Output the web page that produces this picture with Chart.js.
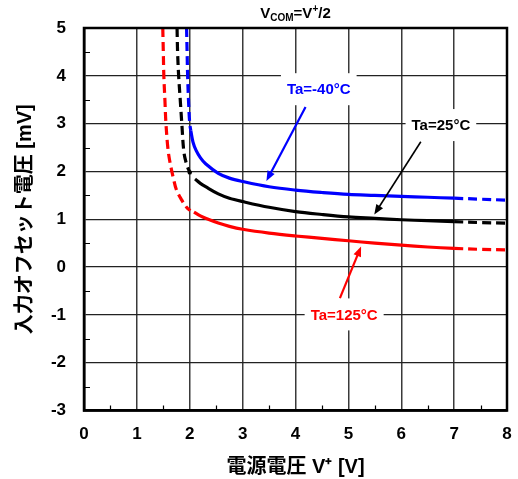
<!DOCTYPE html>
<html>
<head>
<meta charset="utf-8">
<script src="https://cdn.jsdelivr.net/npm/chart.js@4/dist/chart.umd.min.js"></script>
<style>
  html, body { margin: 0; padding: 0; background: #fff; }
  #wrap { width: 518px; height: 479px; }
</style>
</head>
<body>
<div id="wrap"><canvas id="c" width="518" height="479"></canvas></div>
<script>
// Input offset voltage vs. supply voltage, VCOM = V+/2, three ambient temperatures.

// -40°C
const blueDashX  = [1.94, 1.95, 1.96, 1.98, 2.00, 2.02];
const blueDashY  = [5.00, 4.50, 4.00, 3.40, 3.00, 2.85];
const blueSolidX = [2.02, 2.06, 2.12, 2.20, 2.30, 2.54, 2.75, 3.00, 3.50, 4.00, 4.50, 5.00, 5.50, 6.00, 6.50, 7.00];
const blueSolidY = [2.85, 2.62, 2.44, 2.29, 2.16, 1.96, 1.86, 1.79, 1.68, 1.61, 1.56, 1.52, 1.50, 1.48, 1.46, 1.44];
const blueTailX  = [7.0, 7.5, 8.0];
const blueTailY  = [1.44, 1.42, 1.40];

// 25°C
const blackDashX  = [1.76, 1.77, 1.79, 1.82, 1.85, 1.89, 1.94, 2.00];
const blackDashY  = [5.00, 4.50, 4.00, 3.50, 3.00, 2.40, 2.15, 1.98];
const blackSolidX = [2.10, 2.20, 2.30, 2.54, 2.75, 3.00, 3.50, 4.00, 4.50, 5.00, 5.50, 6.00, 6.50, 7.00];
const blackSolidY = [1.84, 1.75, 1.68, 1.53, 1.44, 1.37, 1.25, 1.16, 1.10, 1.05, 1.02, 0.99, 0.97, 0.95];
const blackTailX  = [7.0, 7.5, 8.0];
const blackTailY  = [0.95, 0.93, 0.92];

// 125°C
const redDashX  = [1.49, 1.50, 1.51, 1.53, 1.55, 1.59, 1.63, 1.69, 1.75, 1.85, 1.94, 2.01];
const redDashY  = [5.00, 4.50, 4.00, 3.50, 3.00, 2.45, 2.17, 1.86, 1.61, 1.40, 1.25, 1.18];
const redSolidX = [2.08, 2.20, 2.30, 2.54, 2.75, 3.00, 3.50, 4.00, 4.50, 5.00, 5.50, 6.00, 6.50, 7.00];
const redSolidY = [1.15, 1.07, 1.02, 0.92, 0.85, 0.79, 0.71, 0.65, 0.60, 0.55, 0.50, 0.46, 0.42, 0.39];
const redTailX  = [7.0, 7.5, 8.0];
const redTailY  = [0.39, 0.37, 0.36];

// Axis ranges and labels
const xTicks = [0, 1, 2, 3, 4, 5, 6, 7, 8];
const yTicks = [-3, -2, -1, 0, 1, 2, 3, 4, 5];
const xTitle = '電源電圧 V⁺ [V]';
const yTitle = '入力オフセット電圧 [mV]';

// Callout labels (text position and arrow in data units)
const calloutText   = ['Ta=-40°C', 'Ta=25°C', 'Ta=125°C'];
const calloutColor  = ['#0000ff', '#000000', '#ff0000'];
const calloutX      = [4.44, 6.75, 4.92];
const calloutY      = [3.72, 2.97, -0.99];
const arrowFromX    = [4.19, 6.37, 4.84];
const arrowFromY    = [3.35, 2.62, -0.65];
const arrowToX      = [3.45, 5.49, 5.24];
const arrowToY      = [1.80, 1.10, 0.43];

const FONT = '"Liberation Sans", Arial, "Noto Sans CJK JP", sans-serif';
const pts = (xs, ys) => xs.map((x, i) => ({ x, y: ys[i] }));

function curve(xs, ys, color, dashed, endDot) {
  return {
    data: pts(xs, ys),
    borderColor: color,
    backgroundColor: color,
    borderWidth: 3.2,
    borderDash: dashed ? [9, 5] : [],
    pointRadius: c => (endDot && c.dataIndex === xs.length - 1 ? 2.2 : 0),
    pointBorderWidth: 0,
    tension: 0.35,
    fill: false
  };
}

const overlay = {
  id: 'overlay',
  beforeDatasetsDraw(chart) {
    const { ctx, scales: { x, y } } = chart;
    ctx.save();
    ctx.font = 'bold 15px ' + FONT;
    ctx.textAlign = 'center';
    ctx.textBaseline = 'middle';
    calloutText.forEach((t, i) => {
      const px = x.getPixelForValue(calloutX[i]);
      const py = y.getPixelForValue(calloutY[i]);
      const w = ctx.measureText(t).width + 12;
      const h = 32;
      ctx.fillStyle = '#fff';
      ctx.fillRect(px - w / 2, py - h / 2, w, h);
      ctx.fillStyle = calloutColor[i];
      ctx.fillText(t, px, py + 1);
    });
    ctx.restore();
  },
  afterDatasetsDraw(chart) {
    const { ctx, scales: { x, y } } = chart;
    ctx.save();
    calloutText.forEach((t, i) => {
      const x0 = x.getPixelForValue(arrowFromX[i]);
      const y0 = y.getPixelForValue(arrowFromY[i]);
      const x1 = x.getPixelForValue(arrowToX[i]);
      const y1 = y.getPixelForValue(arrowToY[i]);
      const ang = Math.atan2(y1 - y0, x1 - x0);
      const hl = 10, hw = 4;
      ctx.strokeStyle = calloutColor[i];
      ctx.fillStyle = calloutColor[i];
      ctx.lineWidth = i === 1 ? 1.6 : 2.2;
      ctx.beginPath();
      ctx.moveTo(x0, y0);
      ctx.lineTo(x1 - Math.cos(ang) * hl * 0.8, y1 - Math.sin(ang) * hl * 0.8);
      ctx.stroke();
      ctx.beginPath();
      ctx.moveTo(x1, y1);
      ctx.lineTo(x1 - Math.cos(ang) * hl - Math.sin(ang) * hw, y1 - Math.sin(ang) * hl + Math.cos(ang) * hw);
      ctx.lineTo(x1 - Math.cos(ang) * hl + Math.sin(ang) * hw, y1 - Math.sin(ang) * hl - Math.cos(ang) * hw);
      ctx.closePath();
      ctx.fill();
    });
    ctx.restore();
  },
  afterDraw(chart) {
    const { ctx, chartArea: a, scales: { x, y } } = chart;
    ctx.save();
    // minor ticks, pointing inward
    ctx.strokeStyle = '#000';
    ctx.lineWidth = 1.2;
    ctx.beginPath();
    for (let v = -2.5; v < 5; v += 1) {
      const py = Math.round(y.getPixelForValue(v)) + 0.5;
      ctx.moveTo(a.left, py); ctx.lineTo(a.left + 6, py);
    }
    for (let v = 0.5; v < 8; v += 1) {
      const px = Math.round(x.getPixelForValue(v)) + 0.5;
      ctx.moveTo(px, a.bottom); ctx.lineTo(px, a.bottom - 5);
    }
    ctx.stroke();
    // frame
    ctx.lineWidth = 2.5;
    ctx.strokeRect(a.left, a.top, a.right - a.left, a.bottom - a.top);
    // condition line above the plot
    const cx = (a.left + a.right) / 2;
    const base = 18;
    const parts = [
      { t: 'V', f: 'bold 15px ' + FONT, dy: 0 },
      { t: 'COM', f: 'bold 10px ' + FONT, dy: 3 },
      { t: '=V', f: 'bold 15px ' + FONT, dy: 0 },
      { t: '+', f: 'bold 10px ' + FONT, dy: -6 },
      { t: '/2', f: 'bold 15px ' + FONT, dy: 0 }
    ];
    let total = 0;
    parts.forEach(p => { ctx.font = p.f; p.w = ctx.measureText(p.t).width; total += p.w; });
    let px = cx - total / 2;
    ctx.fillStyle = '#000';
    ctx.textAlign = 'left';
    ctx.textBaseline = 'alphabetic';
    parts.forEach(p => { ctx.font = p.f; ctx.fillText(p.t, px, base + p.dy); px += p.w; });
    ctx.restore();
  }
};

Chart.defaults.font.family = FONT;
Chart.defaults.color = '#000';

new Chart(document.getElementById('c'), {
  type: 'line',
  data: {
    datasets: [
      curve(redDashX, redDashY, '#ff0000', true),
      curve(redSolidX, redSolidY, '#ff0000', false),
      curve(redTailX, redTailY, '#ff0000', true),
      curve(blackDashX, blackDashY, '#000000', true, true),
      curve(blackSolidX, blackSolidY, '#000000', false),
      curve(blackTailX, blackTailY, '#000000', true),
      curve(blueDashX, blueDashY, '#0000ff', true),
      curve(blueSolidX, blueSolidY, '#0000ff', false),
      curve(blueTailX, blueTailY, '#0000ff', true)
    ]
  },
  options: {
    responsive: false,
    devicePixelRatio: 1,
    animation: false,
    layout: { padding: { top: 28, right: 11, left: 0, bottom: 0 } },
    plugins: { legend: { display: false }, tooltip: { enabled: false } },
    scales: {
      x: {
        type: 'linear',
        min: xTicks[0],
        max: xTicks[xTicks.length - 1],
        afterBuildTicks: s => { s.ticks = xTicks.map(v => ({ value: v })); },
        afterFit: s => { s.height = 68.5; s.paddingLeft = 0; s.paddingRight = 0; },
        ticks: { font: { size: 17, weight: 'bold' }, color: '#000', padding: 14, maxRotation: 0 },
        grid: { color: '#3a3a3a', lineWidth: 1.5, drawTicks: false },
        border: { color: '#000', width: 2.5 },
        title: { display: true, text: xTitle, font: { size: 20, weight: 'bold' }, color: '#000', padding: { top: 2, bottom: 0 } }
      },
      y: {
        type: 'linear',
        min: yTicks[0],
        max: yTicks[yTicks.length - 1],
        afterBuildTicks: s => { s.ticks = yTicks.map(v => ({ value: v })); },
        afterFit: s => { s.width = 84; s.paddingTop = 0; s.paddingBottom = 0; },
        ticks: { font: { size: 17, weight: 'bold' }, color: '#000', padding: 18 },
        grid: { color: '#222', lineWidth: 1.3, drawTicks: false },
        border: { color: '#000', width: 2.5 },
        title: { display: true, text: yTitle, font: { size: 20, weight: 'bold' }, color: '#000', padding: { top: 13, bottom: 0 } }
      }
    }
  },
  plugins: [overlay]
});
</script>
</body>
</html>
